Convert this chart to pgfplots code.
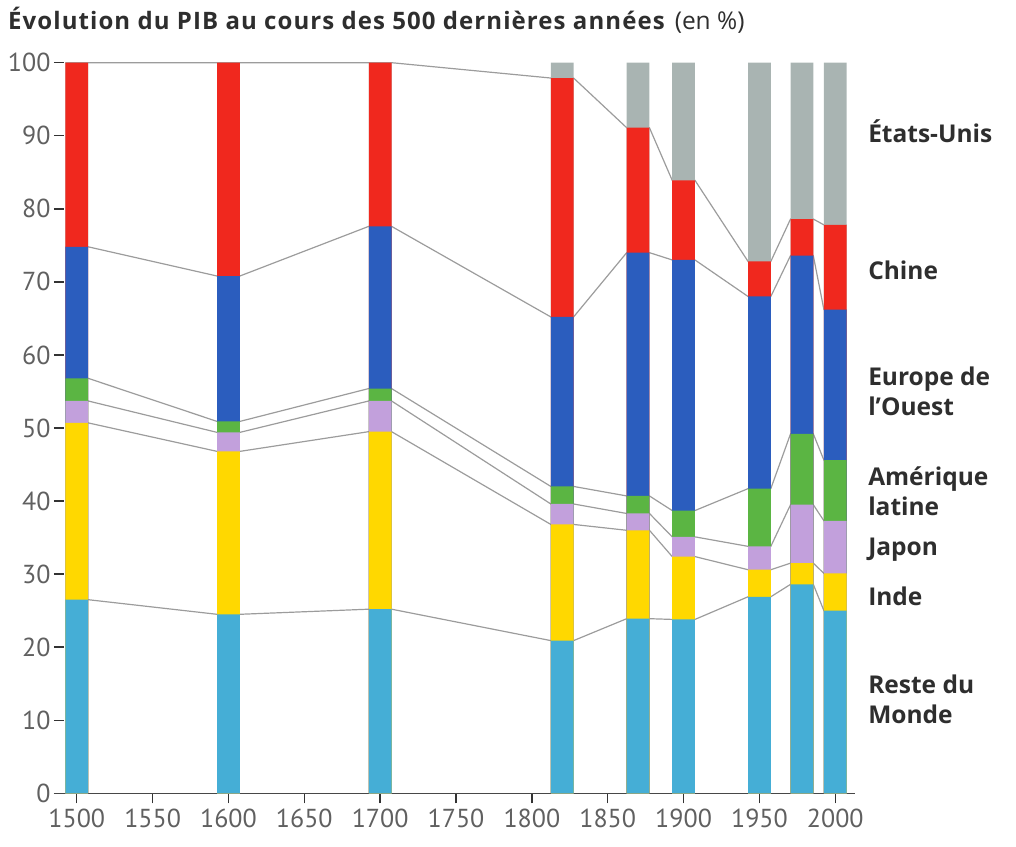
\documentclass[border=0pt]{standalone}
\usepackage{fontspec}
\setmainfont{PT Sans}
\newfontfamily\labfont{Open Sans}
\newfontfamily\titfont[LetterSpace=4.5]{Open Sans}
\usepackage{pgfplots}
\pgfplotsset{compat=1.18}
\usepackage{pgfplotstable}

\definecolor{cRest}{HTML}{45AED6}
\definecolor{cInde}{HTML}{FFD800}
\definecolor{cJap}{HTML}{C2A0DC}
\definecolor{cAml}{HTML}{5BB543}
\definecolor{cEur}{HTML}{2B5DBE}
\definecolor{cChi}{HTML}{F0281E}
\definecolor{cUS}{HTML}{A9B4B2}
\definecolor{lgray}{HTML}{9C9C9C}
\definecolor{tgray}{HTML}{606060}
\definecolor{txt}{HTML}{2E2E2E}

% cumulative boundaries (top of each layer), in %
\pgfplotstableread{
year c1 c2 c3 c4 c5 c6 c7
1500 26.5 50.7 53.7 56.8 74.8 100 100
1600 24.5 46.8 49.4 50.9 70.8 100 100
1700 25.2 49.5 53.7 55.4 77.6 100 100
1820 20.9 36.8 39.6 42.0 65.2 97.9 100
1870 23.9 36.0 38.3 40.7 74.0 91.1 100
1900 23.8 32.4 35.1 38.7 73.0 83.9 100
1950 26.9 30.6 33.8 41.7 68.0 72.8 100
1978 28.6 31.5 39.5 49.2 73.6 78.6 100
2000 25.0 30.1 37.3 45.6 66.2 77.8 100
}\cum

% same boundaries at the left and right edges of each bar (for the connecting lines)
\pgfplotstableread{
x c1 c2 c3 c4 c5 c6
1492.5 26.5 50.7 53.7 56.8 74.8 100
1507.5 26.5 50.7 53.7 56.8 74.8 100
1592.5 24.5 46.8 49.4 50.9 70.8 100
1607.5 24.5 46.8 49.4 50.9 70.8 100
1692.5 25.2 49.5 53.7 55.4 77.6 100
1707.5 25.2 49.5 53.7 55.4 77.6 100
1812.5 20.9 36.8 39.6 42.0 65.2 97.9
1827.5 20.9 36.8 39.6 42.0 65.2 97.9
1862.5 23.9 36.0 38.3 40.7 74.0 91.1
1877.5 23.9 36.0 38.3 40.7 74.0 91.1
1892.5 23.8 32.4 35.1 38.7 73.0 83.9
1907.5 23.8 32.4 35.1 38.7 73.0 83.9
1942.5 26.9 30.6 33.8 41.7 68.0 72.8
1957.5 26.9 30.6 33.8 41.7 68.0 72.8
1970.5 28.6 31.5 39.5 49.2 73.6 78.6
1985.5 28.6 31.5 39.5 49.2 73.6 78.6
1992.5 25.0 30.1 37.3 45.6 66.2 77.8
2007.5 25.0 30.1 37.3 45.6 66.2 77.8
}\edges

\begin{document}
\begin{tikzpicture}[x=1pt,y=1pt]
\useasboundingbox (-54,-52.7) rectangle (962,793.3);
\node[anchor=base west, inner sep=0pt, text=txt] at (-46,763.8)
  {\titfont\fontsize{24}{28}\selectfont\bfseries Évolution du PIB au cours des 500 dernières années\hspace{10pt}\labfont\fontsize{24.5}{27}\selectfont\mdseries (en~\%)};
\begin{axis}[
  at={(0,0)}, anchor=south west,
  scale only axis, width=801pt, height=730.6pt,
  xmin=1485, xmax=2013, ymin=0, ymax=100,
  clip=false,
  axis x line=bottom, axis y line=left,
  axis line style={-, draw=black!72, line width=1.5pt},
  y axis line style={draw=none},
  xtick={1500,1550,...,2000},
  ytick={0,10,...,100},
  major tick length=10pt,
  tick style={draw=black!80, line width=1.4pt},
  xtick align=outside, ytick align=inside,
  tick label style={font=\fontsize{26}{26}\selectfont, text=tgray},
  xticklabel style={yshift=-2pt},
  /pgf/number format/assume math mode=true,
  /pgf/number format/1000 sep={},
]
\foreach \c in {c1,c2,c3,c4,c5,c6}{
  \addplot[lgray, line width=1.2pt, mark=none] table[x=x, y=\c] {\edges};
}
\addplot[ybar, bar width=15, bar shift=0pt, fill=cUS,   draw=none] table[x=year, y=c7] {\cum};
\addplot[ybar, bar width=15, bar shift=0pt, fill=cChi,  draw=none] table[x=year, y=c6] {\cum};
\addplot[ybar, bar width=15, bar shift=0pt, fill=cEur,  draw=none] table[x=year, y=c5] {\cum};
\addplot[ybar, bar width=15, bar shift=0pt, fill=cAml,  draw=none] table[x=year, y=c4] {\cum};
\addplot[ybar, bar width=15, bar shift=0pt, fill=cJap,  draw=none] table[x=year, y=c3] {\cum};
\addplot[ybar, bar width=15, bar shift=0pt, fill=cInde, draw=none] table[x=year, y=c2] {\cum};
\addplot[ybar, bar width=15, bar shift=0pt, fill=cRest, draw=none] table[x=year, y=c1] {\cum};

\begin{scope}[every node/.style={anchor=west, align=left, text=txt, inner sep=0pt, font=\labfont\fontsize{24.5}{30}\selectfont\bfseries}]
\node at (axis cs:2021.6,90.6) {États-Unis};
\node at (axis cs:2021.6,71.6) {Chine};
\node at (axis cs:2021.6,55.0) {Europe de\\l’Ouest};
\node at (axis cs:2021.6,41.3) {Amérique\\latine};
\node at (axis cs:2021.6,33.3) {Japon};
\node at (axis cs:2021.6,27.0) {Inde};
\node at (axis cs:2021.6,12.8) {Reste du\\Monde};
\end{scope}
\end{axis}
\end{tikzpicture}
\end{document}
